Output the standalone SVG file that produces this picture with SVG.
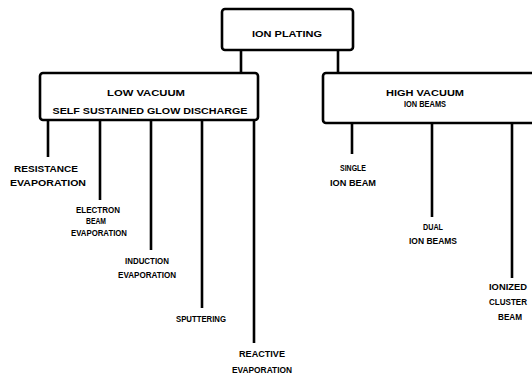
<svg xmlns="http://www.w3.org/2000/svg" width="532" height="379" viewBox="0 0 532 379">
<style>
.box{fill:#fff;stroke:#000;stroke-width:2.6}
.ln{stroke:#000;stroke-width:2.6;fill:none}
text{font-family:"Liberation Sans",Arial,sans-serif;font-weight:bold;font-size:9.5px;fill:#000;text-anchor:middle}
.sm{font-size:8.5px}
</style>
<rect width="532" height="379" fill="#fff"/>
<g id="connectors">
<path class="ln" d="M241,50V73M338,50V73"/>
<path class="ln" d="M48,120V157M100,120V200M151,120V250M202,120V308M254,120V343"/>
<path class="ln" d="M352,123V154M432,123V217M512,123V278"/>
</g>
<g id="ion-plating">
<rect class="box" x="222" y="9" width="131" height="41" rx="3"/>
<text x="287" y="37" textLength="70" lengthAdjust="spacingAndGlyphs">ION PLATING</text>
</g>
<g id="low-vacuum">
<rect class="box" x="40" y="73" width="218" height="47" rx="3"/>
<text x="146" y="96" textLength="78" lengthAdjust="spacingAndGlyphs">LOW VACUUM</text>
<text x="150" y="114" textLength="195" lengthAdjust="spacingAndGlyphs">SELF SUSTAINED GLOW DISCHARGE</text>
</g>
<g id="high-vacuum">
<rect class="box" x="323" y="73" width="230" height="50" rx="3"/>
<text x="425" y="96" textLength="78" lengthAdjust="spacingAndGlyphs">HIGH VACUUM</text>
<text x="425" y="107" textLength="42" lengthAdjust="spacingAndGlyphs">ION BEAMS</text>
</g>
<g id="resistance">
<text x="46" y="172" textLength="64" lengthAdjust="spacingAndGlyphs">RESISTANCE</text>
<text x="48" y="186" textLength="76" lengthAdjust="spacingAndGlyphs">EVAPORATION</text>
</g>
<g id="electron">
<text x="98" y="213" textLength="44" lengthAdjust="spacingAndGlyphs">ELECTRON</text>
<text x="96" y="224" textLength="20" lengthAdjust="spacingAndGlyphs">BEAM</text>
<text x="99" y="236" textLength="56" lengthAdjust="spacingAndGlyphs">EVAPORATION</text>
</g>
<g id="induction">
<text x="147" y="264" textLength="44" lengthAdjust="spacingAndGlyphs">INDUCTION</text>
<text x="147" y="278" textLength="58" lengthAdjust="spacingAndGlyphs">EVAPORATION</text>
</g>
<g id="sputtering">
<text x="201" y="322" textLength="50" lengthAdjust="spacingAndGlyphs">SPUTTERING</text>
</g>
<g id="reactive">
<text x="262" y="357" textLength="46" lengthAdjust="spacingAndGlyphs">REACTIVE</text>
<text x="262" y="373" textLength="60" lengthAdjust="spacingAndGlyphs">EVAPORATION</text>
</g>
<g id="single">
<text x="353" y="171" textLength="26" lengthAdjust="spacingAndGlyphs">SINGLE</text>
<text x="353" y="186" textLength="46" lengthAdjust="spacingAndGlyphs">ION BEAM</text>
</g>
<g id="dual">
<text x="433" y="230" textLength="20" lengthAdjust="spacingAndGlyphs">DUAL</text>
<text x="433" y="244" textLength="48" lengthAdjust="spacingAndGlyphs">ION BEAMS</text>
</g>
<g id="ionized">
<text class="sm" x="508" y="290" textLength="38" lengthAdjust="spacingAndGlyphs">IONIZED</text>
<text class="sm" x="508" y="305" textLength="38" lengthAdjust="spacingAndGlyphs">CLUSTER</text>
<text class="sm" x="510" y="320" textLength="24" lengthAdjust="spacingAndGlyphs">BEAM</text>
</g>
</svg>
